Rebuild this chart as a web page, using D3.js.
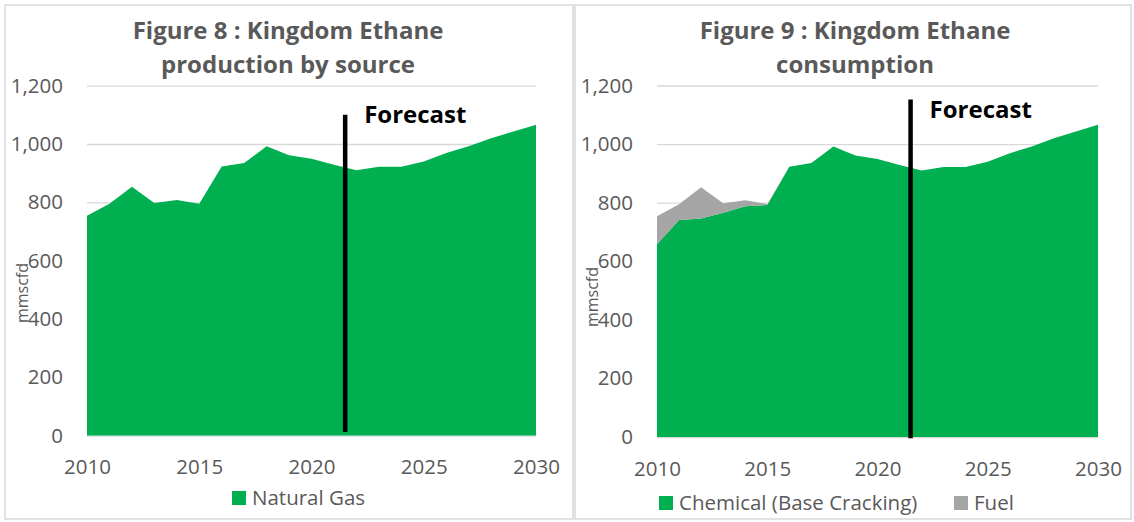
<!DOCTYPE html>
<html>
<head>
<meta charset="utf-8">
<script src="https://cdn.jsdelivr.net/npm/d3@7"></script>
<style>
  body { margin: 0; background: #fff; }
  svg { display: block; font-family: "Open Sans", sans-serif; }
</style>
</head>
<body>
<div id="chart"></div>
<script>
// data
const years = [2010, 2011, 2012, 2013, 2014, 2015, 2016, 2017, 2018, 2019, 2020,
  2021, 2022, 2023, 2024, 2025, 2026, 2027, 2028, 2029, 2030];
const naturalGas = [754, 795, 853, 798, 808, 795, 923, 935, 992, 961, 949,
  929, 910, 922, 922, 940, 969, 992, 1020, 1043, 1066];
const chemical = [658, 741, 746, 766, 788, 792, 923, 935, 992, 961, 949,
  929, 910, 922, 922, 940, 969, 992, 1020, 1043, 1066];
const fuel = [96, 54, 107, 32, 20, 3, 0, 0, 0, 0, 0,
  0, 0, 0, 0, 0, 0, 0, 0, 0, 0];
const yTicks = [0, 200, 400, 600, 800, 1000, 1200];
const xTicks = [2010, 2015, 2020, 2025, 2030];
const forecastYear = 2021.5;

const GREEN = "#00b050";
const GREY = "#a5a5a5";
const TEXT = "#595959";
const GRID = "#d9d9d9";

var svg = d3.select("#chart")
  .append("svg")
  .attr("width", 1134)
  .attr("height", 522);

// panel frames
svg.append("rect").attr("x", 5).attr("y", 5).attr("width", 568).attr("height", 514)
  .attr("fill", "none").attr("stroke", GRID).attr("stroke-width", 1.5);
svg.append("rect").attr("x", 575).attr("y", 5).attr("width", 556).attr("height", 514)
  .attr("fill", "none").attr("stroke", GRID).attr("stroke-width", 1.5);

function drawPanel(p) {
  var x = d3.scaleLinear().domain([2010, 2030]).range([p.left, p.right]);
  var y = d3.scaleLinear().domain([0, 1200]).range([p.bottom, p.top]);
  var g = svg.append("g");

  // title
  g.append("text")
    .attr("x", p.cx).attr("text-anchor", "middle")
    .style("font-size", "24px").style("font-weight", "bold").attr("fill", TEXT)
    .selectAll("tspan").data(p.title).enter().append("tspan")
    .attr("x", p.cx)
    .attr("y", function (d, i) { return 39 + i * 34; })
    .text(function (d) { return d; });

  // gridlines
  g.append("g")
    .attr("transform", "translate(" + p.left + ",0)")
    .call(d3.axisLeft(y).tickValues(yTicks).tickSize(-(p.right - p.left)).tickFormat(""))
    .call(function (s) {
      s.select(".domain").remove();
      s.selectAll("line").attr("stroke", GRID).attr("stroke-width", 1.3);
    });

  // stacked areas
  var stack = d3.stack().keys(p.keys.map(function (k) { return k.name; }));
  var rows = years.map(function (yr, i) {
    var r = { year: yr };
    p.keys.forEach(function (k) { r[k.name] = k.values[i]; });
    return r;
  });
  var area = d3.area()
    .x(function (d) { return x(d.data.year); })
    .y0(function (d) { return y(d[0]); })
    .y1(function (d) { return y(d[1]); });
  g.selectAll(".layer").data(stack(rows)).enter().append("path")
    .attr("d", area)
    .attr("fill", function (d, i) { return p.keys[i].color; });

  // axes labels
  g.append("g")
    .attr("transform", "translate(" + p.left + ",0)")
    .call(d3.axisLeft(y).tickValues(yTicks).tickSize(0).tickPadding(24).tickFormat(d3.format(",")))
    .call(function (s) {
      s.select(".domain").remove();
      s.selectAll("text").attr("fill", TEXT).style("font-size", "20.5px")
        .style("font-family", "Open Sans");
    });
  g.append("g")
    .attr("transform", "translate(0," + p.bottom + ")")
    .call(d3.axisBottom(x).tickValues(xTicks).tickSize(0).tickPadding(24).tickFormat(d3.format("d")))
    .call(function (s) {
      s.select(".domain").remove();
      s.selectAll("text").attr("fill", TEXT).style("font-size", "20.5px")
        .style("font-family", "Open Sans");
    });

  // y axis title
  g.append("text")
    .attr("transform", "translate(" + p.yTitleX + "," + p.yTitleY + ") rotate(-90)")
    .attr("text-anchor", "middle")
    .style("font-size", "16px").attr("fill", TEXT)
    .text("mmscfd");

  // forecast marker
  g.append("line")
    .attr("x1", x(forecastYear)).attr("x2", x(forecastYear))
    .attr("y1", y(p.forecastRange[1])).attr("y2", y(p.forecastRange[0]))
    .attr("stroke", "#000").attr("stroke-width", 4.5);
  g.append("text")
    .attr("x", x(forecastYear) + 19)
    .attr("y", p.forecastTextY)
    .style("font-size", "24px").style("font-weight", "bold").attr("fill", "#000")
    .text("Forecast");

  // legend
  var leg = g.selectAll(".leg").data(p.keys).enter().append("g")
    .attr("transform", function (d, i) { return "translate(" + p.legendX[i] + "," + p.legendY + ")"; });
  leg.append("rect").attr("x", 0).attr("y", -7).attr("width", 14).attr("height", 14)
    .attr("fill", function (d) { return d.color; });
  leg.append("text").attr("x", 20).attr("y", 0).attr("dy", "0.35em")
    .style("font-size", "20.5px").attr("fill", TEXT)
    .text(function (d) { return d.name; });
}

drawPanel({
  title: ["Figure 8 : Kingdom Ethane", "production by source"],
  cx: 288,
  left: 87, right: 536, top: 85.7, bottom: 435.5,
  keys: [{ name: "Natural Gas", values: naturalGas, color: GREEN }],
  yTitleX: 28, yTitleY: 293,
  forecastRange: [12, 1100],
  forecastTextY: 123,
  legendX: [232], legendY: 498
});

drawPanel({
  title: ["Figure 9 : Kingdom Ethane", "consumption"],
  cx: 855,
  left: 657, right: 1098, top: 85.5, bottom: 437,
  keys: [
    { name: "Chemical (Base Cracking)", values: chemical, color: GREEN },
    { name: "Fuel", values: fuel, color: GREY }
  ],
  yTitleX: 598, yTitleY: 297,
  forecastRange: [-4, 1152],
  forecastTextY: 118,
  legendX: [659, 954], legendY: 503
});
</script>
</body>
</html>
